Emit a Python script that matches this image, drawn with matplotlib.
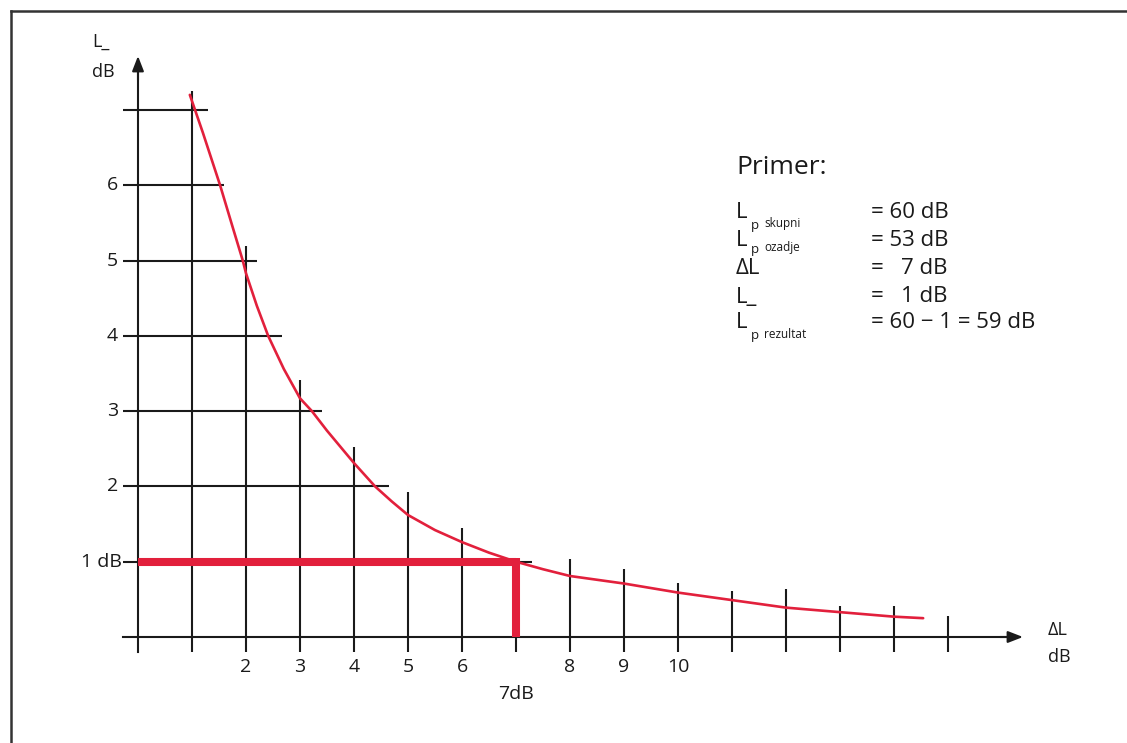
import matplotlib
matplotlib.use("Agg")
import matplotlib.pyplot as plt
from matplotlib.lines import Line2D

# ---- data ----
# vertical grid lines: x position and how high each one reaches (L_ dB)
grid_x = [1, 2, 3, 4, 5, 6, 7, 8, 9, 10, 11, 12, 13, 14, 15]
grid_x_top = [7.25, 5.19, 3.41, 2.52, 1.93, 1.45, 1.0, 1.04, 0.9, 0.72, 0.61, 0.64, 0.41, 0.41, 0.28]

# horizontal grid lines: y position and how far right each one reaches (dL dB)
grid_y = [1, 2, 3, 4, 5, 6, 7]
grid_y_right = [7.3, 4.65, 3.4, 2.67, 2.2, 1.6, 1.3]

# correction curve (dL, L_)
curve_dl = [0.96, 1.2, 1.52, 1.75, 1.94, 2.0, 2.2, 2.41, 2.7, 3.0, 3.22, 3.5,
            4.0, 4.39, 4.7, 5.0, 5.5, 6.0, 6.5, 7.0, 7.5,
            8.0, 9.0, 10.0, 11.0, 12.0, 13.0, 14.0, 14.54]
curve_l = [7.2, 6.7, 6.0, 5.45, 5.0, 4.83, 4.4, 4.0, 3.56, 3.17, 3.0, 2.74,
           2.31, 2.0, 1.8, 1.62, 1.42, 1.26, 1.12, 1.0, 0.9,
           0.81, 0.71, 0.59, 0.49, 0.39, 0.33, 0.27, 0.25]

# example reading
ex_dl = 7
ex_l = 1

x_tick_vals = [2, 3, 4, 5, 6, 8, 9, 10]
y_tick_vals = [2, 3, 4, 5, 6]

primer_rows = [("L", "p", "skupni", "= 60 dB"),
               ("L", "p", "ozadje", "= 53 dB"),
               ("ΔL", "", "", "=   7 dB"),
               ("L_", "", "", "=   1 dB"),
               ("L", "p", "rezultat", "= 60 − 1 = 59 dB")]

RED = "#e2203c"
INK = "#1a1a1a"
plt.rcParams['font.family'] = ['Open Sans', 'DejaVu Sans']

W, H = 1127, 743
fig = plt.figure(figsize=(W / 100, H / 100), dpi=100)
ax = fig.add_axes([0, 0, 1, 1])

# pixel geometry of the diagram
x0_px, dx_px = 138, 54.0
y0_px, dy_px = 637, 75.3
ax.set_xlim(-x0_px / dx_px, (W - x0_px) / dx_px)
ax.set_ylim((y0_px - H) / dy_px, y0_px / dy_px)
ax.axis("off")

def px(x):
    return (x - x0_px) / dx_px

def py(y):
    return (y0_px - y) / dy_px

lw = 1.5
bottom = py(652)
left = px(123)

# grid
for gx, top in zip(grid_x, grid_x_top):
    ax.plot([gx, gx], [bottom, top], color=INK, lw=lw, solid_capstyle="butt")
for gy, right in zip(grid_y, grid_y_right):
    ax.plot([left, right], [gy, gy], color=INK, lw=lw, solid_capstyle="butt")

# axes with arrows
ax.plot([left, px(1010)], [0, 0], color=INK, lw=lw)
ax.plot([0, 0], [bottom, py(70)], color=INK, lw=lw)
ax.annotate("", xy=(px(1023), 0), xytext=(px(1000), 0),
            arrowprops=dict(arrowstyle="-|>,head_length=0.9,head_width=0.35",
                            color=INK, lw=lw, shrinkA=0, shrinkB=0))
ax.annotate("", xy=(0, py(56)), xytext=(0, py(80)),
            arrowprops=dict(arrowstyle="-|>,head_length=0.9,head_width=0.35",
                            color=INK, lw=lw, shrinkA=0, shrinkB=0))

# curve
ax.plot(curve_dl, curve_l, color=RED, lw=1.9, solid_capstyle="round",
        solid_joinstyle="round")

# example lines
ax.plot([0, ex_dl], [ex_l, ex_l], color=RED, lw=5.8, solid_capstyle="butt")
ax.plot([ex_dl, ex_dl], [0, ex_l + 0.05], color=RED, lw=5.8, solid_capstyle="butt")

# tick labels
fs = 14
for v in x_tick_vals:
    ax.text(v, py(667), str(v), ha="center", va="center", fontsize=fs, color=INK)
ax.text(ex_dl, py(694), "7dB", ha="center", va="center", fontsize=fs, color=INK)
for v in y_tick_vals:
    ax.text(px(118), v, str(v), ha="right", va="center", fontsize=fs, color=INK)
ax.text(px(122), ex_l, "1 dB", ha="right", va="center", fontsize=fs, color=INK)

# axis titles
ax.text(px(92), py(42), "L_", ha="left", va="center", fontsize=13, color=INK)
ax.text(px(92), py(72), "dB", ha="left", va="center", fontsize=13, color=INK)
ax.text(px(1048), py(630), "ΔL", ha="left", va="center", fontsize=13, color=INK)
ax.text(px(1048), py(657), "dB", ha="left", va="center", fontsize=13, color=INK)

# example box
ax.text(px(736), py(168), "Primer:", ha="left", va="center", fontsize=19, color=INK)
row_y = [213, 240, 268, 297, 323]
sub_dy = [13, 10, 0, 0, 13]
for (main, sub, sub2, val), ry, sd in zip(primer_rows, row_y, sub_dy):
    ax.text(px(736), py(ry), main, ha="left", va="center", fontsize=16, color=INK)
    if sub:
        ax.text(px(751), py(ry + sd), sub, ha="left", va="center", fontsize=9.5, color=INK)
        ax.text(px(764), py(ry + sd - 2), sub2, ha="left", va="center", fontsize=8.5, color=INK)
    ax.text(px(871), py(ry), val, ha="left", va="center", fontsize=16, color=INK)

# outer frame (top and left edges only)
fig.add_artist(Line2D([11 / W, 1], [1 - 11 / H, 1 - 11 / H], transform=fig.transFigure,
                      color="#333333", lw=1.8))
fig.add_artist(Line2D([11 / W, 11 / W], [0, 1 - 11 / H], transform=fig.transFigure,
                      color="#333333", lw=1.8))

fig.savefig("out.png", dpi=100)
